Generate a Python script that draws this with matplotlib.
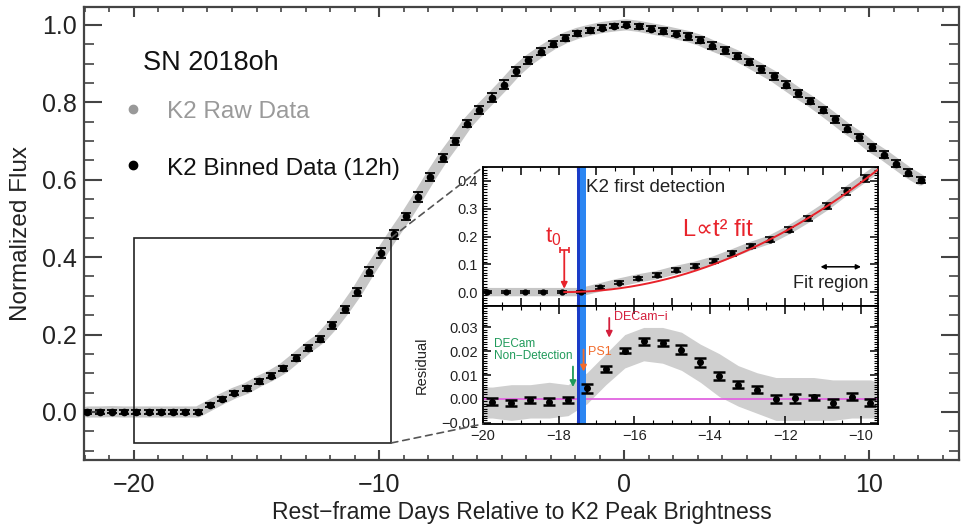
import matplotlib
matplotlib.use('Agg')
import matplotlib.pyplot as plt
from matplotlib.patches import Rectangle, ConnectionPatch
from matplotlib.ticker import MultipleLocator, FuncFormatter

plt.rcParams['font.family'] = ['Liberation Sans', 'DejaVu Sans']

# K2 binned light curve (12h bins)
days = [-21.9, -21.4, -20.9, -20.4, -19.9, -19.4, -18.9, -18.4, -17.9, -17.4,
        -16.9, -16.4, -15.9, -15.4, -14.9, -14.4, -13.9, -13.4, -12.9, -12.4,
        -11.9, -11.4, -10.9, -10.4, -9.9, -9.4, -8.9, -8.4, -7.9, -7.4,
        -6.9, -6.4, -5.9, -5.4, -4.9, -4.4, -3.9, -3.4, -2.9, -2.4,
        -1.9, -1.4, -0.9, -0.4, 0.1, 0.6, 1.1, 1.6, 2.1, 2.6,
        3.1, 3.6, 4.1, 4.6, 5.1, 5.6, 6.1, 6.6, 7.1, 7.6,
        8.1, 8.6, 9.1, 9.6, 10.1, 10.6, 11.1, 11.6, 12.1]
flux = [0.000, 0.000, 0.001, 0.000, 0.000, 0.000, 0.000, 0.000, 0.000, 0.000,
        0.017, 0.034, 0.049, 0.061, 0.079, 0.094, 0.113, 0.139, 0.166, 0.189,
        0.224, 0.265, 0.310, 0.362, 0.410, 0.459, 0.505, 0.555, 0.607, 0.656,
        0.699, 0.745, 0.780, 0.812, 0.845, 0.880, 0.908, 0.930, 0.950, 0.966,
        0.978, 0.986, 0.993, 0.997, 1.000, 0.996, 0.990, 0.984, 0.977, 0.970,
        0.960, 0.946, 0.934, 0.920, 0.903, 0.885, 0.867, 0.845, 0.823, 0.803,
        0.780, 0.756, 0.731, 0.710, 0.684, 0.664, 0.641, 0.618, 0.599]
flux_err = [0.004, 0.004, 0.004, 0.004, 0.004, 0.004, 0.004, 0.004, 0.004, 0.005,
            0.005, 0.006, 0.006, 0.006, 0.006, 0.007, 0.007, 0.008, 0.008, 0.008,
            0.009, 0.010, 0.011, 0.012, 0.013, 0.012, 0.010, 0.012, 0.010, 0.010,
            0.009, 0.010, 0.010, 0.011, 0.012, 0.011, 0.009, 0.009, 0.008, 0.007,
            0.007, 0.006, 0.006, 0.006, 0.006, 0.006, 0.006, 0.007, 0.007, 0.008,
            0.008, 0.009, 0.009, 0.008, 0.008, 0.009, 0.009, 0.009, 0.009, 0.008,
            0.009, 0.009, 0.009, 0.009, 0.009, 0.009, 0.009, 0.009, 0.008]

# residuals from the t^2 fit
res_days = [-19.75, -19.25, -18.75, -18.25, -17.75, -17.25, -16.75, -16.25, -15.75, -15.25,
            -14.75, -14.25, -13.75, -13.25, -12.75, -12.25, -11.75, -11.25, -10.75, -10.25, -9.75]
res = [-0.0011, -0.0018, -0.0004, -0.0011, -0.0004, 0.0045, 0.0127, 0.0203, 0.0242, 0.0235,
       0.0207, 0.0153, 0.0097, 0.0059, 0.0038, -0.0001, 0.0003, 0.0007, -0.0018, 0.0010, -0.0015]
res_err = [0.0013, 0.0013, 0.0012, 0.0013, 0.0012, 0.0018, 0.0013, 0.0012, 0.0015, 0.0013,
           0.0018, 0.0017, 0.0018, 0.0015, 0.0015, 0.0018, 0.0018, 0.0010, 0.0016, 0.0015, 0.0015]

# spread of the raw residuals (grey cloud)
raw_days = [-20.0, -19.75, -19.25, -18.75, -18.25, -17.75, -17.25, -16.75, -16.25, -15.75,
            -15.25, -14.75, -14.25, -13.75, -13.25, -12.75, -12.25, -11.75, -11.25, -10.75,
            -10.25, -9.75, -9.55]
raw_lo = [-0.008, -0.008, -0.009, -0.008, -0.008, -0.007, -0.002, 0.006, 0.013, 0.016,
          0.015, 0.012, 0.007, 0.001, -0.003, -0.006, -0.009, -0.009, -0.009, -0.009,
          -0.008, -0.008, -0.008]
raw_hi = [0.005, 0.005, 0.006, 0.006, 0.007, 0.006, 0.011, 0.019, 0.027, 0.030,
          0.030, 0.028, 0.023, 0.019, 0.014, 0.011, 0.009, 0.009, 0.009, 0.008,
          0.008, 0.008, 0.007]

# fit and markers
t0 = -17.85
t0_err = 0.12
fit_amp = 0.0064
first_det = (-17.52, -17.28)
fit_region = (-11.07, -10.0)
decam_nd = -17.62
ps1 = -17.34
decam_i = -16.66

RED = '#e8232b'

fig = plt.figure(figsize=(9.61, 5.29), dpi=100)


def fpos(x, y):
    return x / 961, 1 - y / 529


ax = fig.add_axes([84 / 961, 69 / 529, 875 / 961, 453 / 529])
ax.plot(days, flux, color='#c6c6c6', lw=8, solid_capstyle='round', zorder=1)
ax.errorbar(days, flux, yerr=flux_err, fmt='o', color='black', ms=4.5,
            capsize=3.5, elinewidth=1.2, capthick=1.3, zorder=3)
ax.add_patch(Rectangle((-20, -0.08), 10.5, 0.53, fill=False, ec='#222222', lw=1.2))
ax.set_xlim(-22.04, 13.67)
ax.set_ylim(-0.124, 1.046)
ax.xaxis.set_major_locator(MultipleLocator(10))
ax.xaxis.set_minor_locator(MultipleLocator(1))
ax.yaxis.set_major_locator(MultipleLocator(0.2))
ax.yaxis.set_minor_locator(MultipleLocator(0.05))
ax.tick_params(which='both', direction='in', top=True, right=True, colors='#444444',
               labelcolor='#222222', labelsize=18)
ax.tick_params(axis='y', which='major', length=13, width=1.5, pad=5)
ax.tick_params(axis='y', which='minor', length=7, width=1.2)
ax.tick_params(axis='x', which='major', length=7, width=1.5, pad=9)
ax.tick_params(axis='x', which='minor', length=3.5, width=1.2)
for s in ax.spines.values():
    s.set_color('#444444')
    s.set_linewidth(1.6)
ax.set_xlabel('Rest\u2212frame Days Relative to K2 Peak Brightness', fontsize=16.5,
              color='#222222', labelpad=3)
ax.set_ylabel('Normalized Flux', fontsize=17.5, color='#222222')
ax.yaxis.set_label_coords(-0.059, 0.5)

fig.text(*fpos(143, 63), 'SN 2018oh', fontsize=19.5, va='center', color='#111111')
ax.plot([0.056], [0.775], 'o', color='#999999', ms=6, transform=ax.transAxes, clip_on=False)
ax.plot([0.056], [0.651], 'o', color='black', ms=6, transform=ax.transAxes, clip_on=False)
fig.text(*fpos(167, 112), 'K2 Raw Data', fontsize=17.5, va='center', color='#9a9a9a')
fig.text(*fpos(167, 169), 'K2 Binned Data (12h)', fontsize=17.5, va='center', color='#111111')

# inset: flux zoom
axt = fig.add_axes([483 / 961, 223 / 529, 395 / 961, 139 / 529])
axt.plot(days, flux, color='#c6c6c6', lw=6, zorder=1)
axt.errorbar(days, flux, yerr=flux_err, fmt='o', color='black', ms=3.5,
             capsize=3.5, elinewidth=1.1, capthick=1.2, zorder=3)
fit_t = [t0 + 0.05 * i for i in range(171)]
axt.plot(fit_t, [fit_amp * (t - t0) ** 2 for t in fit_t], color=RED, lw=1.4, zorder=4)
axt.axvspan(*first_det, color='#2b86f2', lw=0, zorder=2)
axt.axvspan(first_det[0], first_det[0] + 0.09, color='#1a3cc8', lw=0, zorder=2)
axt.errorbar([t0], [0.15], xerr=[t0_err], color=RED, capsize=2, elinewidth=1.2, capthick=1.2)
axt.annotate('', xy=(t0, 0.012), xytext=(t0, 0.15),
             arrowprops=dict(arrowstyle='-|>', color=RED, lw=1.3, mutation_scale=9,
                             shrinkA=0, shrinkB=0))
axt.text(-18.13, 0.2, '$\\mathregular{t_0}$', color=RED, fontsize=16, ha='center', va='center')
axt.text(-17.28, 0.377, 'K2 first detection', fontsize=13.5, va='center', color='#222222')
axt.text(-14.7, 0.223, 'L\u221dt\u00b2 fit', fontsize=17, va='center', color=RED)
axt.text(-11.81, 0.032, 'Fit region', fontsize=13, va='center', color='#222222')
axt.annotate('', xy=(fit_region[0], 0.091), xytext=(fit_region[1], 0.091),
             arrowprops=dict(arrowstyle='<|-|>', color='black', lw=1.1, mutation_scale=7,
                             shrinkA=0, shrinkB=0))
axt.set_xlim(-20, -9.55)
axt.set_ylim(-0.05, 0.45)
axt.xaxis.set_major_locator(MultipleLocator(1))
axt.xaxis.set_minor_locator(MultipleLocator(0.5))
axt.yaxis.set_major_locator(MultipleLocator(0.1))
axt.yaxis.set_minor_locator(MultipleLocator(0.01))
axt.tick_params(which='both', direction='in', top=True, right=True, labelbottom=False,
                labelsize=10.5, labelcolor='#222222')
axt.tick_params(which='major', length=6, width=1.1)
axt.tick_params(which='minor', length=3, width=0.8)
axt.yaxis.set_major_formatter(FuncFormatter(lambda v, p: '%.1f' % v))

# inset: residuals
axr = fig.add_axes([483 / 961, 105 / 529, 395 / 961, 118 / 529])
axr.fill_between(raw_days, raw_lo, raw_hi, color='#cfcfcf', lw=0, zorder=1)
axr.axhline(0, color='#e064e0', lw=1.3, zorder=2)
axr.axvspan(*first_det, color='#2b86f2', lw=0, zorder=2)
axr.axvspan(first_det[0], first_det[0] + 0.09, color='#1a3cc8', lw=0, zorder=2)
axr.errorbar(res_days, res, yerr=res_err, fmt='o', color='black', ms=4,
             capsize=4.5, elinewidth=1.6, capthick=1.8, zorder=4)
axr.annotate('', xy=(decam_i, 0.0257), xytext=(decam_i, 0.034),
             arrowprops=dict(arrowstyle='-|>', color='#d41f3c', lw=1.3, mutation_scale=9,
                             shrinkA=0, shrinkB=0), zorder=5)
axr.text(decam_i + 0.12, 0.0345, 'DECam\u2212i', color='#d41f3c', fontsize=9, va='center')
axr.annotate('', xy=(ps1, 0.0115), xytext=(ps1, 0.0207),
             arrowprops=dict(arrowstyle='-|>', color='#f26a2a', lw=1.3, mutation_scale=9,
                             shrinkA=0, shrinkB=0), zorder=5)
axr.text(ps1 + 0.12, 0.0198, 'PS1', color='#f26a2a', fontsize=9, va='center')
axr.annotate('', xy=(decam_nd, 0.005), xytext=(decam_nd, 0.0136),
             arrowprops=dict(arrowstyle='-|>', color='#1f9a5a', lw=1.3, mutation_scale=9,
                             shrinkA=0, shrinkB=0), zorder=5)
axr.text(decam_nd - 0.02, 0.0206, 'DECam\nNon\u2212Detection', color='#1f9a5a', fontsize=8.5,
         ha='right', multialignment='left', va='center', linespacing=0.95)
axr.set_xlim(-20, -9.55)
axr.set_ylim(-0.0105, 0.039)
axr.xaxis.set_major_locator(MultipleLocator(2))
axr.xaxis.set_minor_locator(MultipleLocator(0.5))
axr.yaxis.set_major_locator(MultipleLocator(0.01))
axr.yaxis.set_minor_locator(MultipleLocator(0.001))
axr.tick_params(which='both', direction='in', top=True, right=True,
                labelsize=10.5, labelcolor='#222222')
axr.tick_params(which='major', length=6, width=1.1)
axr.tick_params(which='minor', length=3, width=0.8)
axr.yaxis.set_major_formatter(FuncFormatter(lambda v, p: ('%.2f' % v).replace('-', '\u2212')))
axr.xaxis.set_major_formatter(FuncFormatter(lambda v, p: ('%d' % round(v)).replace('-', '\u2212')))
axr.set_ylabel('Residual', fontsize=10.5, color='#222222')
axr.yaxis.set_label_coords(-0.137, 0.5)
for a in (axt, axr):
    for s in a.spines.values():
        s.set_linewidth(1.3)

# dashed zoom connectors
for xa, xb in [((-9.5, 0.45), (0, 1)), ((-9.5, -0.08), (0, 0))]:
    con = ConnectionPatch(xyA=xa, coordsA=ax.transData, xyB=xb,
                          coordsB=(axt if xb[1] == 1 else axr).transAxes,
                          ls=(0, (4, 3)), color='#555555', lw=1.2)
    fig.add_artist(con)

fig.savefig('out.png', dpi=100)
